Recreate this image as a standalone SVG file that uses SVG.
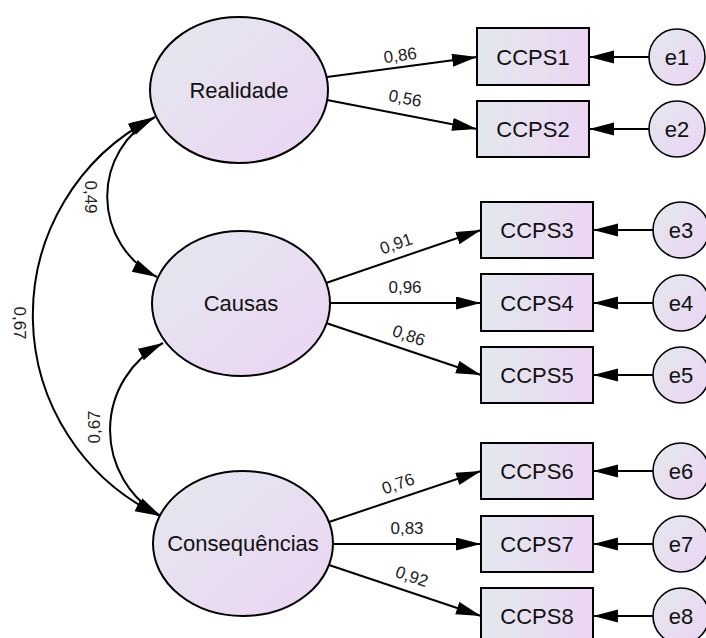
<svg xmlns="http://www.w3.org/2000/svg" width="706" height="638" viewBox="0 0 706 638">
<style>
.lat{stroke:#000;stroke-width:2;fill:url(#g)}
.obs{stroke:#000;stroke-width:2;fill:url(#gh)}
.err{stroke:#000;stroke-width:1.6;fill:url(#g)}
.lab{font-family:"Liberation Sans",Arial,sans-serif;font-size:22px;fill:#111;text-anchor:middle;dominant-baseline:central}
.coef{font-family:"Liberation Sans",Arial,sans-serif;font-size:17px;fill:#222;text-anchor:middle}
.ln{stroke:#000;stroke-width:2;fill:none}
</style>
<defs>
<linearGradient id="g" x1="0" y1="0" x2="1" y2="1">
<stop offset="0" stop-color="#e3e8ee"/>
<stop offset="1" stop-color="#ecd4f3"/>
</linearGradient>
<linearGradient id="gh" x1="0" y1="0" x2="1" y2="0">
<stop offset="0" stop-color="#e3e8ee"/>
<stop offset="1" stop-color="#ebd5f2"/>
</linearGradient>
<marker id="ah" markerUnits="userSpaceOnUse" markerWidth="26" markerHeight="14" refX="25" refY="6.5" orient="auto-start-reverse" viewBox="0 0 26 14">
<path d="M0,0 L25,6.5 L0,13 z" fill="#000"/>
</marker>
</defs>
<g id="connectors">
<path class="ln" d="M327,77 L477,57" marker-end="url(#ah)"/>
<path class="ln" d="M327,100 L477,129" marker-end="url(#ah)"/>
<path class="ln" d="M326,283 L481,230" marker-end="url(#ah)"/>
<path class="ln" d="M330,303 L481,303" marker-end="url(#ah)"/>
<path class="ln" d="M326,323 L481,375" marker-end="url(#ah)"/>
<path class="ln" d="M329,522 L481,471" marker-end="url(#ah)"/>
<path class="ln" d="M333,544 L481,544" marker-end="url(#ah)"/>
<path class="ln" d="M329,565 L481,616" marker-end="url(#ah)"/>
<path class="ln" d="M649,57 L589,57" marker-end="url(#ah)"/>
<path class="ln" d="M649,129 L589,129" marker-end="url(#ah)"/>
<path class="ln" d="M653,230 L593,230" marker-end="url(#ah)"/>
<path class="ln" d="M653,303 L593,303" marker-end="url(#ah)"/>
<path class="ln" d="M653,375 L593,375" marker-end="url(#ah)"/>
<path class="ln" d="M653,471 L593,471" marker-end="url(#ah)"/>
<path class="ln" d="M653,544 L593,544" marker-end="url(#ah)"/>
<path class="ln" d="M653,616 L593,616" marker-end="url(#ah)"/>
<path class="ln" d="M155,117 A90,90 0 0 0 157,277" marker-start="url(#ah)" marker-end="url(#ah)"/>
<path class="ln" d="M163,343 A98,98 0 0 0 161,516" marker-start="url(#ah)" marker-end="url(#ah)"/>
<path class="ln" d="M153,118 A222,222 0 0 0 160,516" marker-start="url(#ah)" marker-end="url(#ah)"/>
<text class="coef" transform="translate(401,61) rotate(-7.6)">0,86</text>
<text class="coef" transform="translate(404,104) rotate(11)">0,56</text>
<text class="coef" transform="translate(398,249) rotate(-19)">0,91</text>
<text class="coef" transform="translate(405,293)">0,96</text>
<text class="coef" transform="translate(407,341) rotate(19)">0,86</text>
<text class="coef" transform="translate(400,489) rotate(-19)">0,76</text>
<text class="coef" transform="translate(407,534)">0,83</text>
<text class="coef" transform="translate(410,582) rotate(19)">0,92</text>
<text class="coef" transform="translate(85,197) rotate(90)">0,49</text>
<text class="coef" transform="translate(100,427) rotate(-90)">0,67</text>
<text class="coef" transform="translate(14,323) rotate(90)">0,67</text>
</g>
<g id="Realidade"><ellipse class="lat" cx="239" cy="90" rx="89" ry="73"/><text class="lab" x="239" y="90">Realidade</text></g>
<g id="Causas"><ellipse class="lat" cx="241" cy="303.5" rx="89" ry="72.5"/><text class="lab" x="241" y="303">Causas</text></g>
<g id="Consequencias"><ellipse class="lat" cx="243" cy="543.5" rx="90" ry="72.5"/><text class="lab" x="243" y="543">Consequências</text></g>
<g id="CCPS1"><rect class="obs" x="477" y="28" width="112" height="57"/><text class="lab" x="533" y="57">CCPS1</text></g>
<g id="CCPS2"><rect class="obs" x="477" y="101" width="112" height="56"/><text class="lab" x="533" y="129">CCPS2</text></g>
<g id="CCPS3"><rect class="obs" x="481" y="202" width="112" height="56"/><text class="lab" x="537" y="230">CCPS3</text></g>
<g id="CCPS4"><rect class="obs" x="481" y="274" width="112" height="57"/><text class="lab" x="537" y="303">CCPS4</text></g>
<g id="CCPS5"><rect class="obs" x="481" y="347" width="112" height="56"/><text class="lab" x="537" y="375">CCPS5</text></g>
<g id="CCPS6"><rect class="obs" x="481" y="443" width="112" height="56"/><text class="lab" x="537" y="471">CCPS6</text></g>
<g id="CCPS7"><rect class="obs" x="481" y="516" width="112" height="56"/><text class="lab" x="537" y="544">CCPS7</text></g>
<g id="CCPS8"><rect class="obs" x="481" y="588" width="112" height="57"/><text class="lab" x="537" y="616">CCPS8</text></g>
<g id="e1"><circle class="err" cx="677" cy="57" r="28"/><text class="lab" x="677" y="57">e1</text></g>
<g id="e2"><circle class="err" cx="677" cy="129" r="28"/><text class="lab" x="677" y="129">e2</text></g>
<g id="e3"><circle class="err" cx="681" cy="230" r="28"/><text class="lab" x="681" y="230">e3</text></g>
<g id="e4"><circle class="err" cx="681" cy="303" r="28"/><text class="lab" x="681" y="303">e4</text></g>
<g id="e5"><circle class="err" cx="681" cy="375" r="28"/><text class="lab" x="681" y="375">e5</text></g>
<g id="e6"><circle class="err" cx="681" cy="471" r="28"/><text class="lab" x="681" y="471">e6</text></g>
<g id="e7"><circle class="err" cx="681" cy="544" r="28"/><text class="lab" x="681" y="544">e7</text></g>
<g id="e8"><circle class="err" cx="681" cy="616" r="28"/><text class="lab" x="681" y="616">e8</text></g>
</svg>
